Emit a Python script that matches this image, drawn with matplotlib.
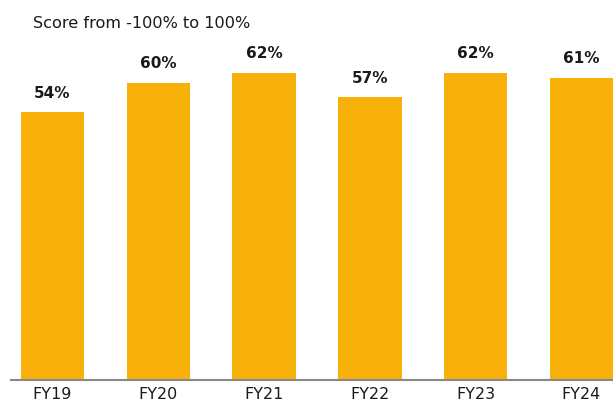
import matplotlib
matplotlib.use("Agg")
import matplotlib.pyplot as plt

categories = ["FY19", "FY20", "FY21", "FY22", "FY23", "FY24"]
values = [54, 60, 62, 57, 62, 61]
value_labels = ["54%", "60%", "62%", "57%", "62%", "61%"]
title = "Score from -100% to 100%"

plt.rcParams['font.family'] = ['DejaVu Sans']

W, H = 613, 403
fig = plt.figure(figsize=(W/100, H/100), dpi=100)
# axes: left at x=11px, right at 613px, baseline at y=380px, top at y=33px
ax = fig.add_axes([11/W, (H-380)/H, (613-11)/W, (380-33)/H])
x = list(range(len(categories)))
ax.bar(x, values, width=0.6, color="#F8B10A", zorder=2)
ax.set_xlim(-0.392, 5.298)
ax.set_ylim(0, 70)
for xi, v, lab in zip(x, values, value_labels):
    ax.annotate(lab, (xi, v), xytext=(0, 8.5), textcoords="offset points",
                ha="center", va="bottom", fontsize=11, fontweight="bold", color="#1a1a1a")
ax.set_xticks(x)
ax.set_xticklabels(categories, fontsize=11.5, color="#1a1a1a")
ax.tick_params(axis="x", length=0, pad=5)
ax.set_yticks([])
for s in ["top", "right", "left"]:
    ax.spines[s].set_visible(False)
ax.spines["bottom"].set_color("#888888")
ax.spines["bottom"].set_linewidth(1.5)
fig.text(33/W, 1-23/H, title, fontsize=11.6, color="#1a1a1a", ha="left", va="center")
fig.savefig("out.png", dpi=100)
